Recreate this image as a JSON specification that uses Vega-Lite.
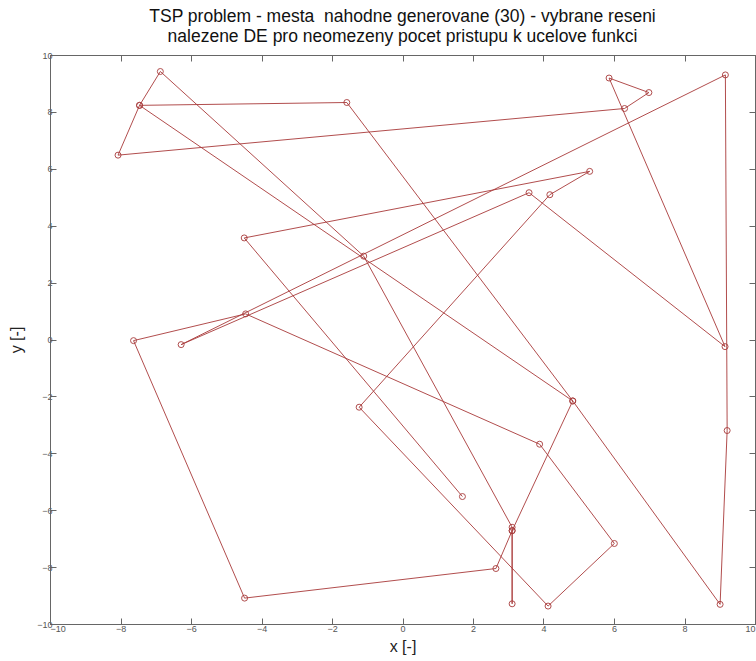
{
  "$schema": "https://vega.github.io/schema/vega-lite/v6.json",
  "autosize": {"type": "none"},
  "width": 705,
  "height": 569,
  "padding": {"left": 50, "top": 55, "right": 1, "bottom": 37},
  "title": {
    "text": ["TSP problem - mesta \u00a0nahodne generovane (30) - vybrane reseni", "nalezene DE pro neomezeny pocet pristupu k ucelove funkci"],
    "font": "Liberation Sans",
    "fontSize": 17.5,
    "fontWeight": "normal",
    "color": "#111",
    "anchor": "middle",
    "offset": 6,
    "lineHeight": 20
  },
  "data": {
    "values": [
      {"step": 1, "city": 20, "x": 1.70, "y": -5.52},
      {"step": 2, "city": 4, "x": -4.49, "y": 3.57},
      {"step": 3, "city": 15, "x": 5.31, "y": 5.91},
      {"step": 4, "city": 17, "x": 4.18, "y": 5.09},
      {"step": 5, "city": 19, "x": -1.23, "y": -2.38},
      {"step": 6, "city": 29, "x": 4.13, "y": -9.37},
      {"step": 7, "city": 27, "x": 6.01, "y": -7.17},
      {"step": 8, "city": 23, "x": 3.89, "y": -3.68},
      {"step": 9, "city": 5, "x": -4.45, "y": 0.90},
      {"step": 10, "city": 6, "x": -7.63, "y": -0.04},
      {"step": 11, "city": 8, "x": -4.48, "y": -9.09},
      {"step": 12, "city": 21, "x": 2.65, "y": -8.05},
      {"step": 13, "city": 26, "x": 3.11, "y": -6.72},
      {"step": 14, "city": 28, "x": 3.11, "y": -9.29},
      {"step": 15, "city": 25, "x": 3.11, "y": -6.60},
      {"step": 16, "city": 10, "x": -1.10, "y": 2.93},
      {"step": 17, "city": 1, "x": -6.87, "y": 9.42},
      {"step": 18, "city": 2, "x": -7.46, "y": 8.23},
      {"step": 19, "city": 3, "x": -8.07, "y": 6.48},
      {"step": 20, "city": 13, "x": 6.30, "y": 8.12},
      {"step": 21, "city": 12, "x": 6.99, "y": 8.68},
      {"step": 22, "city": 11, "x": 5.86, "y": 9.19},
      {"step": 23, "city": 18, "x": 9.15, "y": -0.25},
      {"step": 24, "city": 16, "x": 3.59, "y": 5.16},
      {"step": 25, "city": 7, "x": -6.28, "y": -0.18},
      {"step": 26, "city": 14, "x": 9.16, "y": 9.30},
      {"step": 27, "city": 24, "x": 9.21, "y": -3.20},
      {"step": 28, "city": 30, "x": 9.01, "y": -9.31},
      {"step": 29, "city": 22, "x": 4.83, "y": -2.16},
      {"step": 30, "city": 2, "x": -7.46, "y": 8.23},
      {"step": 31, "city": 9, "x": -1.58, "y": 8.33},
      {"step": 32, "city": 22, "x": 4.83, "y": -2.16},
      {"step": 33, "city": 26, "x": 3.11, "y": -6.72}
    ]
  },
  "layer": [
    {
      "mark": {"type": "line", "color": "#a83a3a", "strokeWidth": 1, "opacity": 0.9},
      "encoding": {
        "x": {"field": "x", "type": "quantitative", "scale": {"domain": [-10, 10], "nice": false, "zero": false},
              "axis": {"orient": "bottom", "title": "x [-]", "labelPadding": 6, "values": [-10, -8, -6, -4, -2, 0, 2, 4, 6, 8, 10]}},
        "y": {"field": "y", "type": "quantitative", "scale": {"domain": [-10, 10], "nice": false, "zero": false},
              "axis": {"orient": "left", "title": "y [-]", "values": [-10, -8, -6, -4, -2, 0, 2, 4, 6, 8, 10]}},
        "order": {"field": "step", "type": "quantitative"}
      }
    },
    {
      "mark": {"type": "point", "shape": "circle", "filled": false, "color": "#a83a3a", "size": 36, "strokeWidth": 1, "opacity": 0.9},
      "encoding": {
        "x": {"field": "x", "type": "quantitative", "scale": {"domain": [-10, 10], "nice": false, "zero": false},
              "axis": {"orient": "top", "title": null, "labels": false, "values": [-10, -8, -6, -4, -2, 0, 2, 4, 6, 8, 10]}},
        "y": {"field": "y", "type": "quantitative", "scale": {"domain": [-10, 10], "nice": false, "zero": false},
              "axis": {"orient": "right", "title": null, "labels": false, "values": [-10, -8, -6, -4, -2, 0, 2, 4, 6, 8, 10]}}
      }
    }
  ],
  "resolve": {"axis": {"x": "independent", "y": "independent"}},
  "config": {
    "view": {"stroke": "#666", "strokeWidth": 1},
    "axis": {
      "grid": false,
      "domainColor": "#666",
      "tickColor": "#666",
      "tickSize": -6,
      "labelFont": "Liberation Sans",
      "labelFontSize": 9,
      "labelColor": "#555",
      "labelPadding": 4,
      "titleFont": "Liberation Sans",
      "titleFontSize": 16,
      "titleFontWeight": "normal",
      "titleColor": "#222"
    },
    "axisBottom": {"titlePadding": 5},
    "axisLeft": {"titlePadding": 12}
  }
}
